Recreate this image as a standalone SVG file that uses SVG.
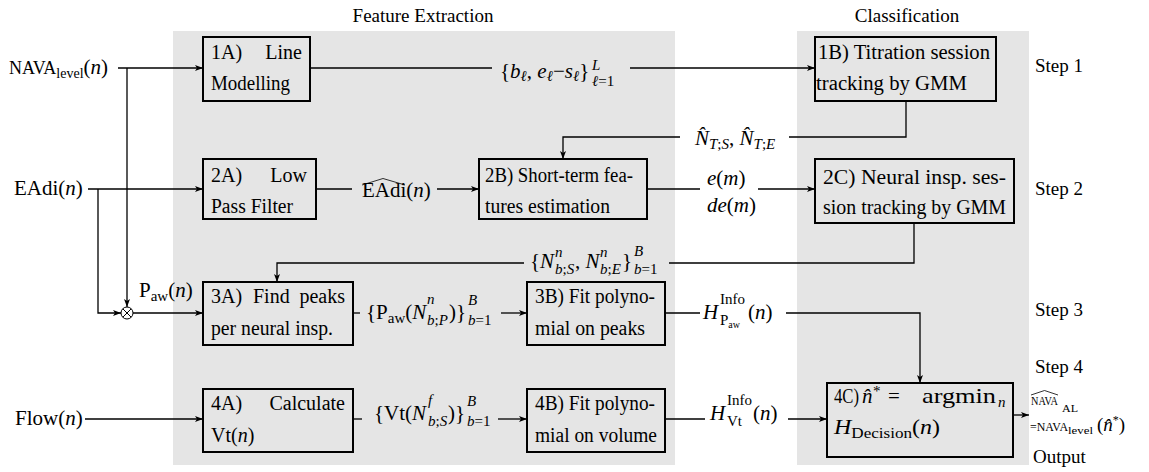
<svg xmlns="http://www.w3.org/2000/svg" width="1149" height="472" viewBox="0 0 1149 472" font-family="Liberation Serif, Times New Roman, serif">
<defs>
<style>
text { font-family: "Liberation Serif", "Times New Roman", serif; fill: #000; }
.bt { font-size: 20px; }
.m { font-size: 21px; }
.lb { font-size: 19px; }
.s { font-size: 15px; }
.ss { font-size: 10px; }
.i { font-style: italic; }
.panel { fill: #e5e5e5; stroke: none; }
.box { fill: none; stroke: #000; stroke-width: 2; }
.w { fill: none; stroke: #000; stroke-width: 1.3; }
.a { marker-end: url(#ah); }
.hat { fill: none; stroke: #000; stroke-width: 0.8; }
</style>
<marker id="ah" markerWidth="8" markerHeight="6" refX="8" refY="3" orient="auto" markerUnits="userSpaceOnUse">
<path d="M0,0 L8,3 L0,6 L2,3 z" fill="#000"/>
</marker>
</defs>

<rect class="panel" x="173" y="31" width="502" height="434"/>
<rect class="panel" x="797" y="31" width="232" height="434"/>
<text class="lb" x="423" y="22" text-anchor="middle">Feature Extraction</text>
<text class="lb" x="907" y="22" text-anchor="middle">Classification</text>
<text class="lb" x="1035" y="72">Step 1</text>
<text class="lb" x="1035" y="195">Step 2</text>
<text class="lb" x="1035" y="316">Step 3</text>
<text class="lb" x="1035" y="373">Step 4</text>
<text class="lb" x="1033" y="463">Output</text>

<g id="in-nava"><text x="9" y="74"><tspan font-size="18">NAVA</tspan><tspan font-size="14" dy="4">level</tspan><tspan class="m" dy="-4">(</tspan><tspan class="m i">n</tspan><tspan class="m">)</tspan></text></g>
<g id="in-eadi"><text class="m" x="14" y="195">EAdi(<tspan class="i">n</tspan>)</text></g>
<g id="in-flow"><text class="m" x="15" y="425">Flow(<tspan class="i">n</tspan>)</text></g>

<g id="mult">
<circle cx="127" cy="313" r="6" fill="none" stroke="#000" stroke-width="1"/>
<path d="M122.8,308.8 L131.2,317.2 M131.2,308.8 L122.8,317.2" stroke="#000" stroke-width="1"/>
</g>
<text class="m" x="139" y="297">P<tspan class="s" dy="4">aw</tspan><tspan dy="-4">(</tspan><tspan class="i">n</tspan>)</text>

<g id="n1A">
<rect class="box" x="203" y="37" width="107" height="64"/>
<text class="bt" x="211" y="59">1A)</text>
<text class="bt" x="302" y="59" text-anchor="end">Line</text>
<text class="bt" x="211" y="90" textLength="79" lengthAdjust="spacingAndGlyphs">Modelling</text>
</g>
<g id="n1B">
<rect class="box" x="815" y="37" width="181" height="64"/>
<text class="bt" x="818" y="59" textLength="172" lengthAdjust="spacingAndGlyphs">1B) Titration session</text>
<text class="bt" x="816" y="90" textLength="151" lengthAdjust="spacingAndGlyphs">tracking by GMM</text>
</g>
<g id="n2A">
<rect class="box" x="203" y="159" width="113" height="60"/>
<text class="bt" x="211" y="182">2A)</text>
<text class="bt" x="307" y="182" text-anchor="end">Low</text>
<text class="bt" x="211" y="213" textLength="82" lengthAdjust="spacingAndGlyphs">Pass Filter</text>
</g>
<g id="n2B">
<rect class="box" x="479" y="159" width="168" height="60"/>
<text class="bt" x="485" y="182" textLength="148" lengthAdjust="spacingAndGlyphs">2B) Short-term fea-</text>
<text class="bt" x="485" y="213" textLength="125" lengthAdjust="spacingAndGlyphs">tures estimation</text>
</g>
<g id="n2C">
<rect class="box" x="815" y="159" width="199" height="64"/>
<text class="bt" x="823" y="184" textLength="183" lengthAdjust="spacingAndGlyphs">2C) Neural insp. ses-</text>
<text class="bt" x="823" y="214" textLength="183" lengthAdjust="spacingAndGlyphs">sion tracking by GMM</text>
</g>
<g id="n3A">
<rect class="box" x="203" y="282" width="150" height="63"/>
<text class="bt" x="211" y="303">3A)</text>
<text class="bt" x="253" y="303">Find</text>
<text class="bt" x="345" y="303" text-anchor="end">peaks</text>
<text class="bt" x="211" y="335" textLength="122" lengthAdjust="spacingAndGlyphs">per neural insp.</text>
</g>
<g id="n3B">
<rect class="box" x="527" y="282" width="138" height="63"/>
<text class="bt" x="535" y="303" textLength="120" lengthAdjust="spacingAndGlyphs">3B) Fit polyno-</text>
<text class="bt" x="535" y="335" textLength="110" lengthAdjust="spacingAndGlyphs">mial on peaks</text>
</g>
<g id="n4A">
<rect class="box" x="203" y="389" width="150" height="63"/>
<text class="bt" x="211" y="410">4A)</text>
<text class="bt" x="345" y="410" text-anchor="end">Calculate</text>
<text class="bt" x="211" y="442">Vt(<tspan class="i">n</tspan>)</text>
</g>
<g id="n4B">
<rect class="box" x="527" y="389" width="138" height="63"/>
<text class="bt" x="535" y="410" textLength="120" lengthAdjust="spacingAndGlyphs">4B) Fit polyno-</text>
<text class="bt" x="535" y="442" textLength="122" lengthAdjust="spacingAndGlyphs">mial on volume</text>
</g>
<g id="n4C">
<rect class="box" x="827" y="383" width="186" height="74"/>
<text class="bt" x="834" y="403" textLength="25" lengthAdjust="spacingAndGlyphs">4C)</text>
<text class="m i" x="862" y="403">n̂</text>
<text class="s" x="873" y="396">*</text>
<text class="m" x="888" y="403">=</text>
<text x="922" y="403" font-size="22" textLength="74" lengthAdjust="spacingAndGlyphs">argmin</text>
<text class="s i" x="998" y="407">n</text>
<text class="m" x="834" y="434" textLength="106" lengthAdjust="spacingAndGlyphs"><tspan class="i">H</tspan><tspan class="s" dy="4">Decision</tspan><tspan dy="-4">(</tspan><tspan class="i">n</tspan>)</text>
</g>

<g id="connectors">
<path class="w a" d="M118,68 H203"/>
<path class="w a" d="M127,68 V307"/>
<path class="w a" d="M88,189 H203"/>
<path class="w a" d="M98,189 V313 H121"/>
<path class="w a" d="M133,313 H203"/>
<path class="w a" d="M85,419 H203"/>
<path class="w" d="M310,68 H492"/>
<path class="w a" d="M630,68 H815"/>
<path class="w" d="M906,101 V137 H789"/>
<path class="w a" d="M680,137 H563 V159"/>
<path class="w" d="M316,189 H352"/>
<path class="w a" d="M437,189 H479"/>
<path class="w" d="M647,189 H700"/>
<path class="w a" d="M758,189 H815"/>
<path class="w" d="M914,223 V263 H669"/>
<path class="w a" d="M524,263 H277 V282"/>
<path class="w" d="M353,313 H360"/>
<path class="w a" d="M501,313 H527"/>
<path class="w" d="M665,313 H700"/>
<path class="w a" d="M786,313 H920 V383"/>
<path class="w" d="M353,419 H362"/>
<path class="w a" d="M498,419 H527"/>
<path class="w" d="M665,419 H705"/>
<path class="w a" d="M788,419 H827"/>
<path class="w a" d="M1013,415 H1029"/>
</g>

<g id="labels">
<text class="m" x="500" y="78">{<tspan class="i">b</tspan><tspan class="s i" dy="3">ℓ</tspan><tspan dy="-3">, </tspan><tspan class="i">e</tspan><tspan class="s i" dy="3">ℓ</tspan><tspan dy="-3">−</tspan><tspan class="i">s</tspan><tspan class="s i" dy="3">ℓ</tspan><tspan dy="-3">}</tspan></text>
<text class="s i" x="592" y="70">L</text>
<text class="s" x="592" y="86"><tspan class="i">ℓ</tspan>=1</text>

<text class="m" x="695" y="145"><tspan class="i">N̂</tspan><tspan class="s" dy="4"><tspan class="i">T</tspan>;<tspan class="i">S</tspan></tspan><tspan dy="-4">, </tspan><tspan class="i">N̂</tspan><tspan class="s" dy="4"><tspan class="i">T</tspan>;<tspan class="i">E</tspan></tspan></text>

<text class="m" x="362" y="197">EAdi(<tspan class="i">n</tspan>)</text>
<path class="hat" d="M362,185 L383,178.5 L405,185"/>

<text class="m" x="707" y="185"><tspan class="i">e</tspan>(<tspan class="i">m</tspan>)</text>
<text class="m" x="707" y="212"><tspan class="i">de</tspan>(<tspan class="i">m</tspan>)</text>

<text class="m" x="530" y="268">{<tspan class="i">N</tspan></text>
<text class="s i" x="555" y="257">n</text>
<text class="s" x="555" y="274"><tspan class="i">b</tspan>;<tspan class="i">S</tspan></text>
<text class="m" x="575" y="268">, <tspan class="i">N</tspan></text>
<text class="s i" x="600" y="257">n</text>
<text class="s" x="600" y="274"><tspan class="i">b</tspan>;<tspan class="i">E</tspan></text>
<text class="m" x="622" y="268">}</text>
<text class="s i" x="634" y="256">B</text>
<text class="s" x="634" y="274"><tspan class="i">b</tspan>=1</text>

<text class="m" x="366" y="319">{P<tspan class="s" dy="4">aw</tspan><tspan dy="-4">(</tspan><tspan class="i">N</tspan></text>
<text class="s i" x="427" y="304">n</text>
<text class="s" x="427" y="325"><tspan class="i">b</tspan>;<tspan class="i">P</tspan></text>
<text class="m" x="449" y="319">)}</text>
<text class="s i" x="468" y="305">B</text>
<text class="s" x="468" y="325"><tspan class="i">b</tspan>=1</text>

<text class="m i" x="703" y="319">H</text>
<text class="s" x="720" y="304">Info</text>
<text class="s" x="720" y="325">P<tspan class="ss" dy="3">aw</tspan></text>
<text class="m" x="748" y="319">(<tspan class="i">n</tspan>)</text>

<text class="m" x="374" y="420">{Vt(<tspan class="i">N</tspan></text>
<text class="s i" x="428" y="405">f</text>
<text class="s" x="428" y="426"><tspan class="i">b</tspan>;<tspan class="i">S</tspan></text>
<text class="m" x="448" y="420">)}</text>
<text class="s i" x="467" y="406">B</text>
<text class="s" x="467" y="426"><tspan class="i">b</tspan>=1</text>

<text class="m i" x="710" y="420">H</text>
<text class="s" x="727" y="405">Info</text>
<text class="s" x="727" y="426">Vt</text>
<text class="m" x="753" y="420">(<tspan class="i">n</tspan>)</text>

<text x="1031" y="405" font-size="13.5" textLength="27" lengthAdjust="spacingAndGlyphs">NAVA</text>
<text x="1062" y="412" font-size="10" textLength="16" lengthAdjust="spacingAndGlyphs">AL</text>
<path class="hat" d="M1031,395 L1044.5,390.5 L1058,395"/>
<text x="1030" y="431" font-size="12.5" textLength="38" lengthAdjust="spacingAndGlyphs">=NAVA</text>
<text x="1068" y="434" font-size="11" textLength="25" lengthAdjust="spacingAndGlyphs">level</text>
<text x="1097" y="431" font-size="19">(<tspan class="i">n̂</tspan><tspan font-size="12" dy="-7">*</tspan><tspan dy="7">)</tspan></text>
</g>
</svg>
